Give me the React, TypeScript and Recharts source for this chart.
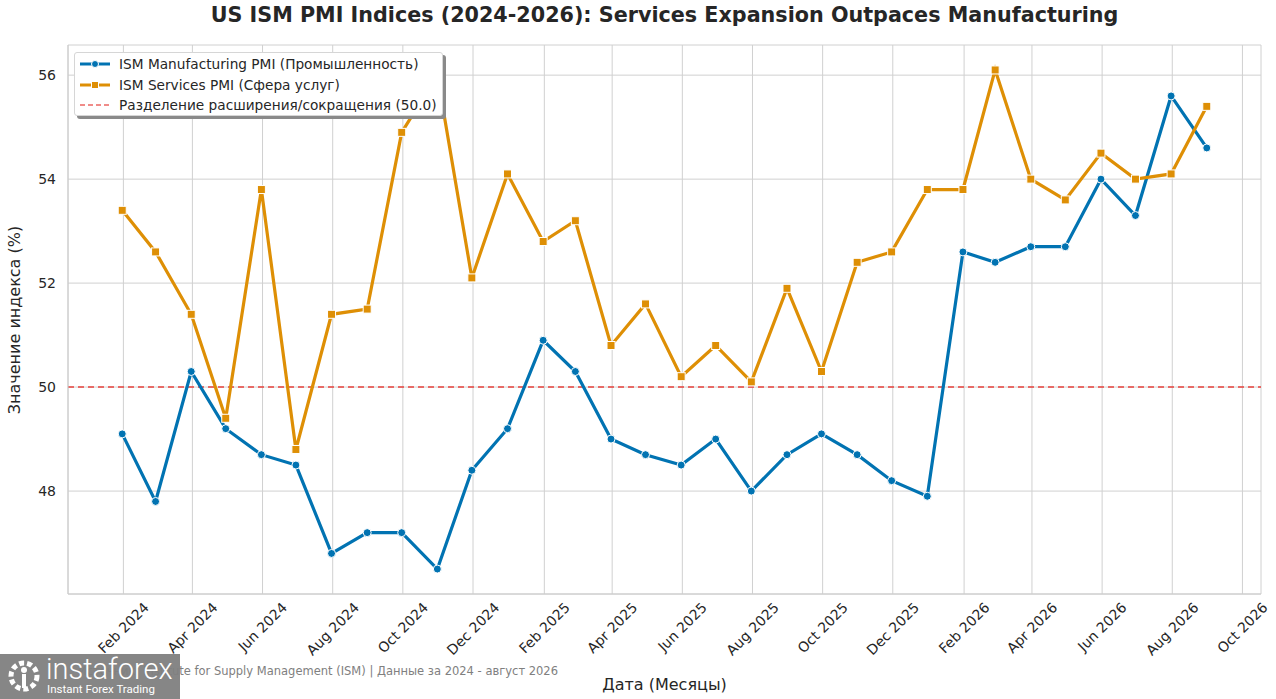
import { LineChart, Line, XAxis, YAxis, CartesianGrid, ReferenceLine } from 'recharts';

const months = [
  '2024-01', '2024-02', '2024-03', '2024-04', '2024-05', '2024-06', '2024-07', '2024-08',
  '2024-09', '2024-10', '2024-11', '2024-12', '2025-01', '2025-02', '2025-03', '2025-04',
  '2025-05', '2025-06', '2025-07', '2025-08', '2025-09', '2025-10', '2025-11', '2025-12',
  '2026-01', '2026-02', '2026-03', '2026-04', '2026-05', '2026-06', '2026-07', '2026-08',
];

const manufacturing = [
  49.1, 47.8, 50.3, 49.2, 48.7, 48.5, 46.8, 47.2, 47.2, 46.5, 48.4, 49.2,
  50.9, 50.3, 49.0, 48.7, 48.5, 49.0, 48.0, 48.7, 49.1, 48.7, 48.2, 47.9,
  52.6, 52.4, 52.7, 52.7, 54.0, 53.3, 55.6, 54.6,
];

const services = [
  53.4, 52.6, 51.4, 49.4, 53.8, 48.8, 51.4, 51.5, 54.9, 56.0, 52.1, 54.1,
  52.8, 53.2, 50.8, 51.6, 50.2, 50.8, 50.1, 51.9, 50.3, 52.4, 52.6, 53.8,
  53.8, 56.1, 54.0, 53.6, 54.5, 54.0, 54.1, 55.4,
];

const tickLabels = [
  'Feb 2024', 'Apr 2024', 'Jun 2024', 'Aug 2024', 'Oct 2024', 'Dec 2024',
  'Feb 2025', 'Apr 2025', 'Jun 2025', 'Aug 2025', 'Oct 2025', 'Dec 2025',
  'Feb 2026', 'Apr 2026', 'Jun 2026', 'Aug 2026', 'Oct 2026',
];

const yTicks = [48, 50, 52, 54, 56];

const MONTHS = ['Jan', 'Feb', 'Mar', 'Apr', 'May', 'Jun', 'Jul', 'Aug', 'Sep', 'Oct', 'Nov', 'Dec'];
const BLUE = '#0173b2';
const ORANGE = '#de8f05';
const RED = '#e8423c';
const TEXT = '#262626';
const FONT = '"DejaVu Sans", sans-serif';

// month end dates, like pandas 'M' frequency
const monthEnd = (s: string) => {
  const [y, m] = s.split('-').map(Number);
  return Date.UTC(y, m, 0);
};

const data = months.map((m, i) => ({
  date: monthEnd(m),
  manufacturing: manufacturing[i],
  services: services[i],
}));

const ticks = tickLabels.map((l) => {
  const [mon, yr] = l.split(' ');
  return Date.UTC(Number(yr), MONTHS.indexOf(mon), 1);
});

const xMin = data[0].date;
const xMax = data[data.length - 1].date;
const xPad = (xMax - xMin) * 0.05;

const allVals = [...manufacturing, ...services];
const yMin = Math.min(...allVals);
const yMax = Math.max(...allVals);
const yPad = (yMax - yMin) * 0.05;

const fmtDate = (t: number) => {
  const d = new Date(t);
  return `${MONTHS[d.getUTCMonth()]} ${d.getUTCFullYear()}`;
};

let ctx: CanvasRenderingContext2D | null = null;
const textWidth = (s: string) => {
  if (!ctx) {
    ctx = document.createElement('canvas').getContext('2d');
    if (ctx) ctx.font = '14px "DejaVu Sans"';
  }
  return ctx ? ctx.measureText(s).width : s.length * 8;
};

const XTick = (props: any) => {
  const { x, y, payload } = props;
  const label = fmtDate(payload.value);
  const half = ((textWidth(label) + 14) * Math.SQRT1_2) / 2;
  const cy = y + 6 + half;
  return (
    <text
      x={x}
      y={cy}
      transform={`rotate(-45 ${x} ${cy})`}
      textAnchor="middle"
      dominantBaseline="central"
      fontSize={14}
      fill={TEXT}
      fontFamily={FONT}
    >
      {label}
    </text>
  );
};

const SquareDot = (props: any) => {
  const { cx, cy } = props;
  if (cx == null || cy == null) return null;
  return <rect x={cx - 4} y={cy - 4} width={8} height={8} fill={ORANGE} stroke="#fff" strokeWidth={1} />;
};

const legendItems = [
  { label: 'ISM Manufacturing PMI (Промышленность)', color: BLUE, marker: 'circle' },
  { label: 'ISM Services PMI (Сфера услуг)', color: ORANGE, marker: 'square' },
  { label: 'Разделение расширения/сокращения (50.0)', color: RED, marker: 'dash' },
];

const ChartLegend = () => (
  <div
    style={{
      position: 'absolute',
      left: 74,
      top: 52,
      width: 369,
      height: 64,
      background: '#fff',
      border: '1px solid #d6d6d6',
      borderRadius: 3,
      boxShadow: '3px 3px 0 #8a8a8a',
      fontSize: 13.7,
      color: TEXT,
      boxSizing: 'border-box',
      paddingTop: 1,
      whiteSpace: 'nowrap',
    }}
  >
    {legendItems.map((it) => (
      <div key={it.label} style={{ display: 'flex', alignItems: 'center', height: 20.5, paddingLeft: 4 }}>
        <svg width={32} height={12} style={{ marginRight: 8, flexShrink: 0 }}>
          {it.marker === 'dash' ? (
            <line x1={1} y1={6} x2={31} y2={6} stroke={RED} strokeWidth={1.5} strokeDasharray="5 3" opacity={0.8} />
          ) : (
            <line x1={1} y1={6} x2={31} y2={6} stroke={it.color} strokeWidth={3} />
          )}
          {it.marker === 'circle' && <circle cx={16} cy={6} r={3.5} fill={it.color} stroke="#fff" strokeWidth={1} />}
          {it.marker === 'square' && <rect x={12.5} y={2.5} width={7} height={7} fill={it.color} stroke="#fff" strokeWidth={1} />}
        </svg>
        <span>{it.label}</span>
      </div>
    ))}
  </div>
);

const App = () => {
  return (
    <div style={{ position: 'relative', width: 1276, height: 699, background: '#fff', fontFamily: FONT, overflow: 'hidden' }}>
      <style>{'body{margin:0}'}</style>
      <div
        style={{
          position: 'absolute',
          top: 3,
          left: 0,
          width: 1329,
          textAlign: 'center',
          fontSize: 20.7,
          fontWeight: 'bold',
          color: TEXT,
          whiteSpace: 'nowrap',
        }}
      >
        US ISM PMI Indices (2024-2026): Services Expansion Outpaces Manufacturing
      </div>

      <div style={{ position: 'absolute', top: 0, left: 0 }}>
        <LineChart width={1276} height={699} data={data} margin={{ top: 45, right: 15, left: 0, bottom: 0 }}>
          <CartesianGrid stroke="#d0d0d0" strokeWidth={1} />
          <XAxis
            dataKey="date"
            type="number"
            scale="time"
            domain={[xMin - xPad, xMax + xPad]}
            ticks={ticks}
            tick={<XTick />}
            tickLine={false}
            tickSize={0}
            tickMargin={0}
            height={105}
            stroke="#cccccc"
            interval={0}
            allowDataOverflow
          />
          <YAxis
            type="number"
            domain={[yMin - yPad, yMax + yPad]}
            ticks={yTicks}
            tickLine={false}
            tickSize={0}
            tickMargin={12}
            width={68}
            stroke="#cccccc"
            tick={{ fill: TEXT, fontSize: 14, fontFamily: FONT }}
            allowDataOverflow
          />
          <ReferenceLine y={50} stroke={RED} strokeWidth={1.5} strokeDasharray="6 4" />
          <Line
            type="linear"
            dataKey="manufacturing"
            stroke={BLUE}
            strokeWidth={3.2}
            dot={{ r: 4, fill: BLUE, stroke: '#fff', strokeWidth: 1 }}
            activeDot={false}
            isAnimationActive={false}
          />
          <Line
            type="linear"
            dataKey="services"
            stroke={ORANGE}
            strokeWidth={3.2}
            dot={<SquareDot />}
            activeDot={false}
            isAnimationActive={false}
          />
        </LineChart>
      </div>

      <ChartLegend />

      <div
        style={{
          position: 'absolute',
          left: 14,
          top: 320,
          transform: 'translate(-50%, -50%) rotate(-90deg)',
          whiteSpace: 'nowrap',
          fontSize: 16,
          color: TEXT,
        }}
      >
        Значение индекса (%)
      </div>

      <div
        style={{
          position: 'absolute',
          top: 675,
          left: 0,
          width: 1329,
          textAlign: 'center',
          fontSize: 16,
          color: TEXT,
        }}
      >
        Дата (Месяцы)
      </div>

      <div style={{ position: 'absolute', top: 664, right: 1276 - 558, fontSize: 11.5, color: '#808080', whiteSpace: 'nowrap' }}>
        Источник: Institute for Supply Management (ISM) | Данные за 2024 - август 2026
      </div>

      <div
        style={{
          position: 'absolute',
          left: 0,
          top: 654,
          width: 180,
          height: 45,
          background: 'rgba(128,128,128,0.95)',
          color: '#fff',
          fontFamily: 'Roboto, sans-serif',
          overflow: 'hidden',
        }}
      >
        <div style={{ position: 'absolute', left: 46, top: -2, fontSize: 29, fontWeight: 300, whiteSpace: 'nowrap' }}>instaforex</div>
        <div style={{ position: 'absolute', left: 47, top: 28, fontSize: 11.5, whiteSpace: 'nowrap' }}>Instant Forex Trading</div>
        <svg width={36} height={36} style={{ position: 'absolute', left: 6, top: 4 }}>
          <circle cx={18} cy={18} r={13} fill="none" stroke="#fff" strokeWidth={5} strokeDasharray="5 3" />
          <circle cx={18} cy={12} r={3} fill="#fff" />
          <rect x={16} y={16} width={4} height={14} fill="#fff" />
        </svg>
      </div>
    </div>
  );
};

export default App;
